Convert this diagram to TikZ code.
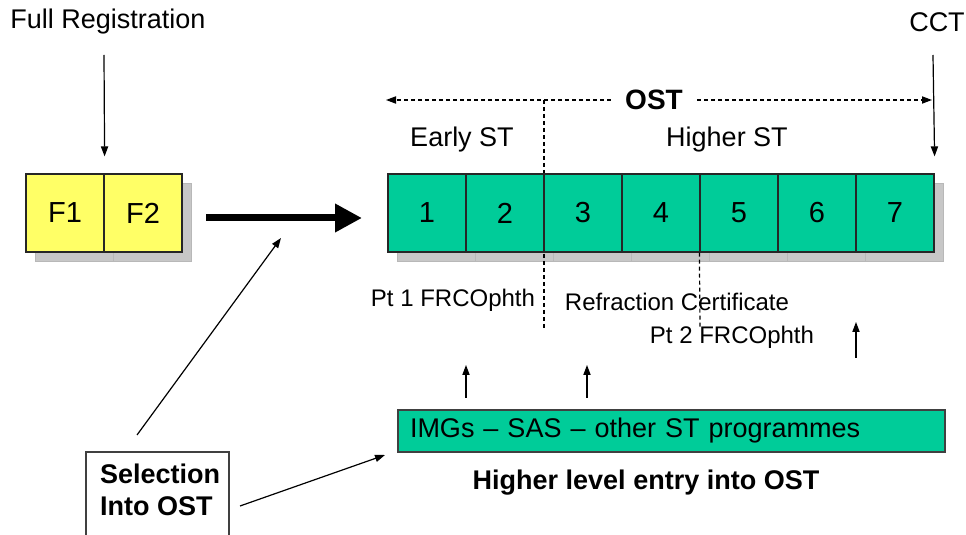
\documentclass[tikz,border=0pt]{standalone}
\usepackage{fontspec}
\setmainfont{Liberation Sans}
\usetikzlibrary{arrows.meta}

\definecolor{stgreen}{RGB}{0,204,153}
\definecolor{fyellow}{RGB}{255,255,102}

\tikzstyle{cell}=[draw=black!85, line width=0.6pt, fill=stgreen, minimum width=39pt, minimum height=39pt, inner sep=0pt, font=\fontsize{14.5}{16}\selectfont]
\tikzstyle{fcell}=[cell, fill=fyellow]
\tikzstyle{cellshadow}=[fill=black!22, draw=black!28, line width=0.4pt]
\tikzstyle{arr}=[black, line width=0.6pt, draw, -{Triangle[length=5pt,width=3.6pt]}]
\tikzstyle{dasharr}=[arr, dash pattern=on 2pt off 1.5pt]
\tikzstyle{dline}=[black, line width=0.6pt, dash pattern=on 2pt off 1.5pt]
\tikzstyle{bigarr}=[black, line width=3.5pt, draw, -{Triangle[length=13.5pt,width=13.5pt]}]
\tikzstyle{small}=[font=\fontsize{12}{14}\selectfont]

\begin{document}
\begin{tikzpicture}[x=0.5pt, y=-0.5pt, font=\fontsize{13.5}{16}\selectfont]
  \useasboundingbox (0,0) rectangle (966,535);

  % shadows
  \foreach \i in {0,1} \draw [cellshadow] ({26+78*\i+9},183) rectangle +(78,78);
  \foreach \i in {0,...,6} \draw [cellshadow] ({388+78*\i+9},183) rectangle +(78,78);

  % OST span
  \node [font=\fontsize{14}{16}\selectfont\bfseries, inner xsep=7pt] (ost) at (654,100) {OST};
  \coordinate (ostl) at (386,100);
  \coordinate (ostr) at (932,100);
  \draw [dasharr] (ost.west) -- (ostl);
  \draw [dasharr] (ost.east) -- (ostr);
  \coordinate (splittop) at (544,100);
  \coordinate (splitbot) at (544,331);
  \draw [dline] (splittop) -- (splitbot);

  % boxes
  \node [fcell] (f1) at (65,213) {F1};
  \node [fcell] (f2) at (143,213) {F2};
  \foreach \i in {1,...,7}
    \node [cell] (c\i) at ({427+78*(\i-1)},213) {\i};

  \node (fullreg) at (108,22) {Full Registration};
  \node (cct) at (937,22) {CCT};
  \coordinate (regarr) at (104,55);
  \coordinate (cctarr) at (933,55);
  \draw [arr] (regarr) -- ([yshift=8.5pt]f1.north east);
  \draw [arr] (cctarr) -- ([yshift=8.5pt]c7.north east);

  \coordinate (bigstart) at (206,218);
  \coordinate (bigend) at (362,218);
  \draw [bigarr] (bigstart) -- (bigend);

  \node (early) at (462,140) {Early ST};
  \node (higher) at (727,140) {Higher ST};

  % exams
  \node [small] (pt1) at (453,300) {Pt 1 FRCOphth};
  \node [small] (refr) at (677,302) {Refraction Certificate};
  \node [small] (pt2) at (732,337) {Pt 2 FRCOphth};
  \coordinate (split2bot) at (700,327);
  \draw [dline] (c5.south west) -- (split2bot);

  % higher level entry
  \node [draw=black!75, line width=0.6pt, fill=stgreen, minimum width=273.5pt, minimum height=21pt, inner xsep=6pt, text width=261.5pt, align=left] (imgs) at (671.5,431) {IMGs -- SAS -- other ST programmes};
  \node [font=\fontsize{13.5}{16}\selectfont\bfseries] (hle) at (646,483) {Higher level entry into OST};
  \coordinate (up1a) at (466,398);
  \coordinate (up1b) at (466,365);
  \coordinate (up2a) at (587,398);
  \coordinate (up2b) at (587,365);
  \coordinate (up3a) at (856,358);
  \coordinate (up3b) at (856,322);
  \draw [arr] (up1a) -- (up1b);
  \draw [arr] (up2a) -- (up2b);
  \draw [arr] (up3a) -- (up3b);

  % selection
  \draw [black!75, line width=0.6pt] (86,545) |- (229,452) -- (229,545);
  \node [font=\fontsize{13.5}{16}\selectfont\bfseries, align=left, anchor=west] (sel) at (93,490) {Selection\\Into OST};
  \coordinate (selup) at (137,435);
  \coordinate (seluptip) at (281,238);
  \coordinate (selright) at (240,506);
  \coordinate (selrighttip) at (385,455);
  \draw [arr] (selup) -- (seluptip);
  \draw [arr] (selright) -- (selrighttip);
\end{tikzpicture}
\end{document}
